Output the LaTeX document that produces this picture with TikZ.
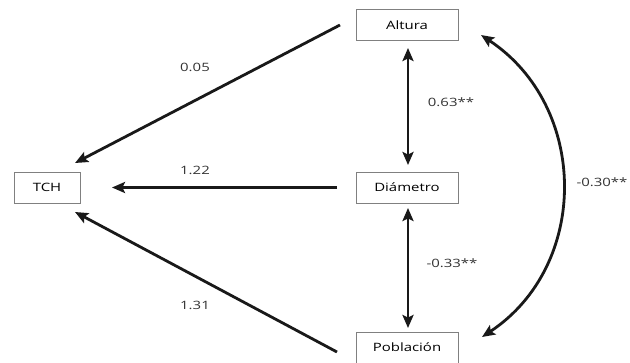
\documentclass[tikz,border=0pt]{standalone}
\usepackage{fontspec}
\setmainfont{Open Sans}
\usetikzlibrary{arrows.meta}
\newcommand{\wtxt}[1]{\scalebox{1.3}[1]{#1}}
\tikzset{
  varbox/.style={draw=black!50, line width=0.7pt, minimum height=31pt, inner sep=0pt, font=\fontsize{11.5}{13}\selectfont},
  lbl/.style={font=\fontsize{11.5}{13}\selectfont, text=black!80, inner sep=0pt},
  tip/.style={Stealth[length=13pt,width=11pt,inset=2.5pt]},
  conn/.style={line width=2.8pt, draw=black!90, -{Stealth[length=13pt,width=11pt,inset=2.5pt]}},
  biconn/.style={line width=2.8pt, draw=black!90, {Stealth[length=13pt,width=11pt,inset=2.5pt]}-{Stealth[length=13pt,width=11pt,inset=2.5pt]}}
}
\begin{document}
\begin{tikzpicture}[x=1pt,y=-1pt]
\useasboundingbox (0,0) rectangle (630,362);
\clip (0,0) rectangle (630,362);
\node[varbox, minimum width=66pt] (tch) at (47,187.5) {\wtxt{TCH}};
\node[varbox, minimum width=102pt] (alt) at (407,25) {\wtxt{Altura}};
\node[varbox, minimum width=102pt] (dia) at (407,187.5) {\wtxt{Diámetro}};
\node[varbox, minimum width=102pt] (pob) at (407,347.5) {\wtxt{Población}};
% connector ends
\coordinate (a1) at (340,25);
\coordinate (t1) at (75,163);
\coordinate (d1) at (337,187.5);
\coordinate (t2) at (112,187.5);
\coordinate (p1) at (337,352);
\coordinate (t3) at (75,212);
\coordinate (a2) at (408,48);
\coordinate (d2) at (408,165);
\coordinate (d3) at (408,208);
\coordinate (p2) at (408,328);
\coordinate (a3) at (481,35);
\coordinate (p3) at (482,337);
\draw[conn] (a1) -- (t1);
\draw[conn] (d1) -- (t2);
\draw[conn] (p1) -- (t3);
\draw[biconn] (a2) -- (d2);
\draw[biconn] (d3) -- (p2);
\draw[biconn] (a3) .. controls (589,106.5) and (590,265.5) .. (p3);
% labels
\node[lbl] (l1) at (195,67) {\wtxt{0.05}};
\node[lbl] (l2) at (195,170) {\wtxt{1.22}};
\node[lbl] (l3) at (195,305) {\wtxt{1.31}};
\node[lbl] (l4) at (451,102) {\wtxt{0.63**}};
\node[lbl] (l5) at (452,263) {\wtxt{-0.33**}};
\node[lbl] (l6) at (602,182) {\wtxt{-0.30**}};
\end{tikzpicture}
\end{document}
